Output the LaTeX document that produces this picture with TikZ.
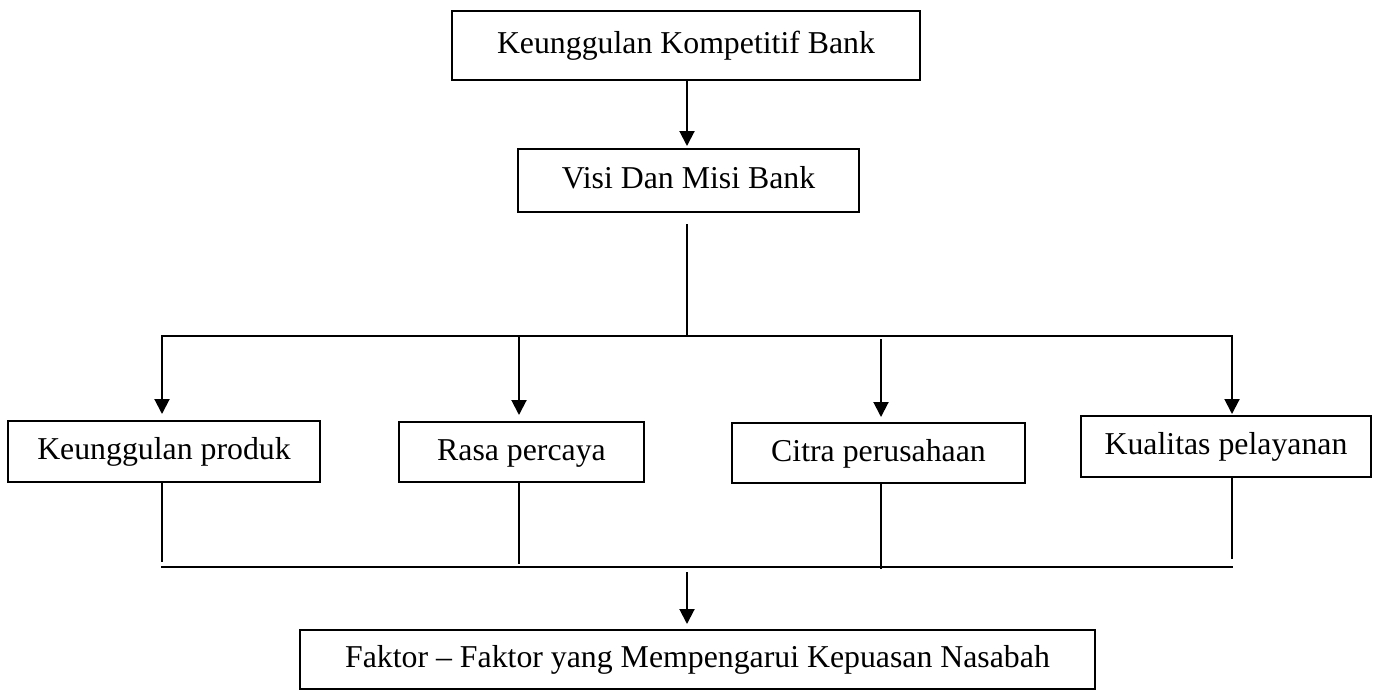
\documentclass[tikz,border=0pt]{standalone}
\usepackage{fontspec}
\setmainfont{Liberation Serif}
\usetikzlibrary{arrows.meta}
\begin{document}
\begin{tikzpicture}[x=1pt,y=-1pt,
  box/.style={draw, line width=2pt, inner sep=0pt, outer sep=0pt,
    text height=21pt, text depth=5pt,
    font=\fontsize{31.8pt}{38pt}\selectfont},
  arr/.style={line width=2pt, -{Triangle[length=15pt,width=15pt]}},
  bus/.style={line width=2pt, line cap=rect},
  thinline/.style={line width=1.3pt}]
\useasboundingbox (0,0) rectangle (1378,691);
\node[box, minimum width=468pt, minimum height=69pt] (top) at (686,45.5) {Keunggulan Kompetitif Bank};
\node[box, minimum width=341pt, minimum height=63pt] (visi) at (688.5,180.5) {Visi Dan Misi Bank};
\node[box, minimum width=312pt, minimum height=61pt] (k1) at (164,451.5) {Keunggulan produk};
\node[box, minimum width=245pt, minimum height=60pt] (k2) at (521.5,452) {Rasa percaya};
\node[box, minimum width=293pt, minimum height=60pt] (k3) at (878.5,453) {Citra perusahaan};
\node[box, minimum width=290pt, minimum height=61pt] (k4) at (1226,446.5) {Kualitas pelayanan};
\node[box, minimum width=795pt, minimum height=59pt] (bot) at (697.5,659.5) {Faktor – Faktor yang Mempengarui Kepuasan Nasabah};
% coordinates
\coordinate (ax) at (687,0);
\coordinate (busT) at (687,336);
\coordinate (busL) at (162,336);
\coordinate (b2) at (519,336);
\coordinate (b3) at (881,336);
\coordinate (busR) at (1232,336);
\coordinate (e1) at (162,562);
\coordinate (e2) at (519,564);
\coordinate (e3) at (881,569);
\coordinate (e4) at (1232,559);
\coordinate (dL) at (162,567);
\coordinate (dR) at (1232,567);
\coordinate (dM) at (687,572);
% connectors
\draw[arr, shorten >=3pt] (top.south -| ax) -- (visi.north -| ax);
\draw[line width=1.5pt, shorten <=12pt] (visi.south -| ax) -- (busT);
\draw[bus] (busL) -- (busR);
\draw[arr, shorten >=7pt] (busL) -- (busL |- k1.north);
\draw[arr, shorten >=7pt] (b2) -- (b2 |- k2.north);
\draw[arr, shorten <=3pt, shorten >=6pt] (b3) -- (b3 |- k3.north);
\draw[arr, shorten >=2pt] (busR) -- (busR |- k4.north);
\draw[thinline] (busL |- k1.south) -- (e1);
\draw[thinline] (b2 |- k2.south) -- (e2);
\draw[thinline] (b3 |- k3.south) -- (e3);
\draw[thinline] (busR |- k4.south) -- (e4);
\draw[bus] (dL) -- (dR);
\draw[arr, shorten >=6pt] (dM) -- (dM |- bot.north);
\end{tikzpicture}
\end{document}
